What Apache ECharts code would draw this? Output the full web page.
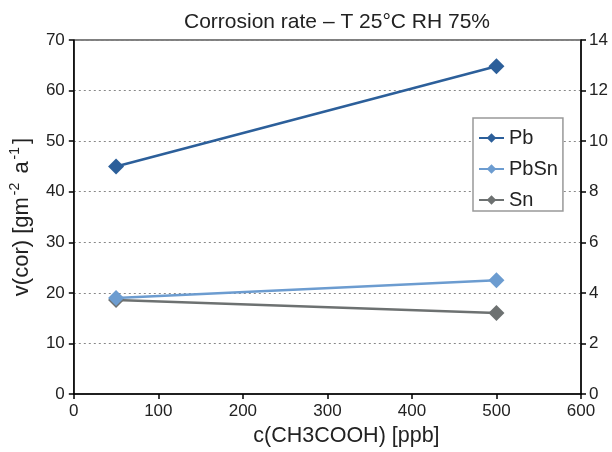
<!DOCTYPE html>
<html><head><meta charset="utf-8">
<script src="https://cdn.jsdelivr.net/npm/echarts@6/dist/echarts.min.js"></script>
<style>html,body{margin:0;padding:0;background:#fff}#c{width:612px;height:452px}</style>
</head><body><div id="c"></div>
<script>
var xValues = [50, 500];
var pb = [45.0, 64.8];
var pbsn = [19.0, 22.5];
var sn = [18.6, 16.0];
var seriesNames = ['Pb', 'PbSn', 'Sn'];
var seriesColors = ['#2c5f9a', '#6c9cd0', '#6d7171'];
var seriesData = [pb, pbsn, sn];

var chart = echarts.init(document.getElementById('c'));
var font = 'Liberation Sans, Arial, sans-serif';
var tickFont = { fontFamily: font, fontSize: 17, color: '#222' };
chart.setOption({
  animation: false,
  title: { text: 'Corrosion rate – T 25°C RH 75%', left: 332, top: 7, textAlign: 'center',
    textStyle: { fontFamily: font, fontSize: 21, fontWeight: 'normal', color: '#222' } },
  grid: { left: 68, right: 31, top: 40, bottom: 53, show: true, borderColor: '#000', borderWidth: 1 },
  legend: {
    orient: 'vertical', left: 473, top: 118,
    data: seriesNames,
    backgroundColor: '#fff', borderColor: '#999', borderWidth: 1.5,
    padding: [10, 5, 1, 5], itemGap: 11, itemWidth: 25, itemHeight: 12,
    textStyle: { fontFamily: font, fontSize: 20, lineHeight: 20, color: '#222' }
  },
  xAxis: {
    type: 'value', min: 0, max: 600, interval: 100,
    name: 'c(CH3COOH) [ppb]', nameLocation: 'middle', nameGap: 31,
    nameTextStyle: { fontFamily: font, fontSize: 21.5, color: '#222', padding: [0, 0, 0, 38] },
    axisLine: { show: true, lineStyle: { color: '#000', width: 1.5 } },
    axisTick: { show: true, length: 5, lineStyle: { color: '#000', width: 1.5 } },
    axisLabel: Object.assign({ margin: 9 }, tickFont),
    splitLine: { show: false }
  },
  yAxis: [{
    type: 'value', min: 0, max: 70, interval: 10, position: 'left',
    name: 'v(cor) [gm{sup|-2} a{sup|-1}]', nameLocation: 'middle', nameGap: 33,
    nameTextStyle: { fontFamily: font, fontSize: 22, lineHeight: 27, color: '#222',
      rich: { sup: { fontFamily: font, fontSize: 14, lineHeight: 16, verticalAlign: 'top', color: '#222', padding: [0, 3, 0, 2] } } },
    axisLine: { show: true, lineStyle: { color: '#000', width: 1.5 } },
    axisTick: { show: true, length: 5, lineStyle: { color: '#000', width: 1.5 } },
    axisLabel: Object.assign({ margin: 9 }, tickFont),
    splitLine: { show: true, lineStyle: { color: '#888', type: [2, 3], width: 1 } }
  }, {
    type: 'value', min: 0, max: 14, interval: 2, position: 'right',
    axisLine: { show: true, lineStyle: { color: '#000', width: 1.5 } },
    axisTick: { show: true, length: 5, lineStyle: { color: '#000', width: 1.5 } },
    axisLabel: Object.assign({ margin: 8 }, tickFont),
    splitLine: { show: false }
  }],
  series: seriesNames.map(function (n, i) {
    return {
      name: n, type: 'line', yAxisIndex: 0,
      data: xValues.map(function (x, j) { return [x, seriesData[i][j]]; }),
      symbol: 'diamond', symbolSize: 16, z: 3 - i,
      lineStyle: { color: seriesColors[i], width: 2.5 },
      itemStyle: { color: seriesColors[i] }
    };
  })
});
</script></body></html>
